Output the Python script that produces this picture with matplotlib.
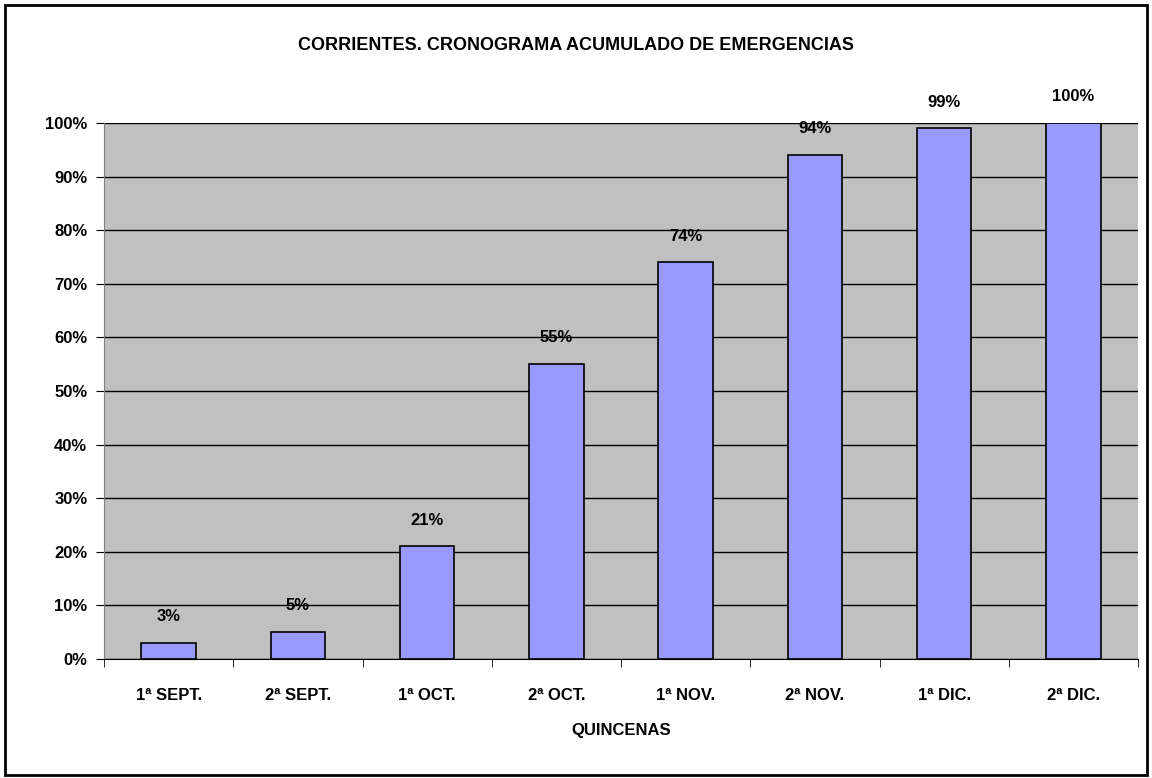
import matplotlib
matplotlib.use("Agg")
import matplotlib.pyplot as plt
from matplotlib.patches import Rectangle

categories = ["1ª SEPT.", "2ª SEPT.", "1ª OCT.", "2ª OCT.", "1ª NOV.", "2ª NOV.", "1ª DIC.", "2ª DIC."]
values = [3, 5, 21, 55, 74, 94, 99, 100]
yticks = [0, 10, 20, 30, 40, 50, 60, 70, 80, 90, 100]

plt.rcParams['font.family'] = ['Liberation Sans', 'DejaVu Sans']

fig = plt.figure(figsize=(11.52, 7.78), dpi=100)
fig.patches.append(Rectangle((5/1152, 3/778), 1142/1152, 770/778, transform=fig.transFigure,
                             fill=False, edgecolor='black', linewidth=2))
ax = fig.add_axes([104/1152, 1 - 659/778, 1034/1152, (659 - 123)/778])
ax.set_facecolor('#C0C0C0')
x = list(range(len(categories)))
ax.bar(x, values, width=0.42, color='#9999FF', edgecolor='black', linewidth=1.2, zorder=3)
ax.set_xlim(-0.5, len(categories) - 0.5)
ax.set_ylim(0, 100)
ax.set_yticks(yticks)
ax.set_yticklabels([f"{v}%" for v in yticks], fontsize=12, fontweight='bold')
ax.yaxis.grid(True, color='black', linewidth=1, zorder=1)
ax.set_axisbelow(True)
ax.set_xticks(x)
ax.set_xticklabels(categories, fontsize=12, fontweight='bold')
ax.tick_params(axis='x', length=0, pad=21)
ax.set_xticks([i + 0.5 for i in range(-1, len(categories))], minor=True)
ax.tick_params(axis='x', which='minor', length=6, color='black')
ax.tick_params(axis='y', length=6, pad=6)
for s in ['top', 'right']:
    ax.spines[s].set_visible(False)
ax.spines['left'].set_color('#808080')
ax.spines['bottom'].set_color('black')
for xi, v in zip(x, values):
    ax.text(xi, v + 3.5, f"{v}%", ha='center', va='bottom', fontsize=12, fontweight='bold', clip_on=False)
ax.set_xlabel("QUINCENAS", fontsize=12, fontweight='bold', labelpad=14)
fig.text(0.5, 1 - 45/778, "CORRIENTES. CRONOGRAMA ACUMULADO DE EMERGENCIAS", ha='center', va='center',
         fontsize=13, fontweight='bold')
fig.savefig("out.png", dpi=100)
